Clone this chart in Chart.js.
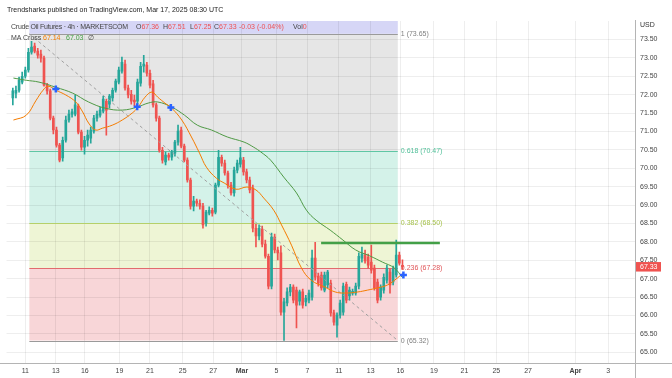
<!DOCTYPE html>
<html><head><meta charset="utf-8">
<script src="https://cdn.jsdelivr.net/npm/chart.js@4.4.1/dist/chart.umd.min.js"></script>
<style>
html,body{margin:0;padding:0;background:#fff;}
#wrap{position:relative;width:672px;height:378px;overflow:hidden;font-family:"Liberation Sans",Arial,sans-serif;}
canvas{position:absolute;left:0;top:0;}
.t{position:absolute;white-space:nowrap;line-height:1;font-size:7px;}
.g{color:#444}.r{color:#ef4f52}.o{color:#f57c00}.gr{color:#43a047}
</style></head><body>
<div id="wrap">
<canvas id="c" width="672" height="378"></canvas>
<div class="t" style="left:7px;top:6px;color:#222;">Trendsharks published on TradingView.com, Mar 17, 2025 08:30 UTC</div>
<div class="t g" style="left:11px;top:22.5px;letter-spacing:-0.25px;">Crude Oil Futures · 4h · MARKETSCOM</div>
<div class="t" style="left:136px;top:22.5px;"><span class="g">O</span><span class="r">67.36</span></div>
<div class="t" style="left:163px;top:22.5px;"><span class="g">H</span><span class="r">67.51</span></div>
<div class="t" style="left:190px;top:22.5px;"><span class="g">L</span><span class="r">67.25</span></div>
<div class="t" style="left:214px;top:22.5px;"><span class="g">C</span><span class="r">67.33</span></div>
<div class="t r" style="left:239px;top:22.5px;">-0.03 (-0.04%)</div>
<div class="t" style="left:293px;top:22.5px;"><span class="g">Vol</span><span class="r">0</span></div>
<div class="t g" style="left:11px;top:33.5px;">MA Cross</div>
<div class="t o" style="left:43px;top:33.5px;">67.14</div>
<div class="t gr" style="left:66px;top:33.5px;">67.03</div>
<div class="t g" style="left:88px;top:33.5px;">∅</div>
</div>
<script>
// ---- data ----
const barStart = -4;
const opens = [71.91,72.04,72.12,72.34,
 72.50,72.67,73.15,73.32,73.18,73.10,72.99,72.26,72.10,71.36,
 71.04,70.63,70.28,70.76,71.31,71.47,71.47,71.69,70.98,70.57,
 70.76,70.82,71.01,71.36,71.44,71.55,71.82,71.74,71.91,72.12,
 72.34,72.64,72.83,72.18,72.01,71.85,71.82,72.31,72.77,72.80,
 72.58,72.29,71.72,71.36,70.49,70.17,70.36,70.30,70.41,70.71,
 71.04,70.60,70.22,69.68,68.97,69.11,69.05,68.97,68.51,68.78,
 68.86,68.81,69.54,70.30,70.14,69.87,69.54,69.33,69.95,70.11,
 70.22,69.90,69.68,69.46,68.37,68.16,68.35,67.94,67.61,66.80,
 68.13,67.78,67.70,66.09,66.34,66.64,66.77,66.69,66.39,66.64,
 66.37,66.42,66.50,67.56,67.07,67.10,66.69,66.83,66.88,66.07,
 65.74,66.01,66.09,66.85,66.53,66.61,66.61,66.80,67.56,67.64,
 67.59,67.45,67.29,66.91,66.50,66.69,66.96,67.18,66.91,67.10,
 67.64,67.36];
const highs = [72.18,72.23,72.48,72.61,
 72.75,73.26,73.45,73.40,73.26,73.21,73.05,72.31,72.15,71.42,
 71.12,70.68,70.85,71.42,71.58,71.61,71.99,71.74,71.04,70.87,
 71.04,71.12,71.44,71.55,71.66,71.96,71.88,72.01,72.18,72.42,
 72.75,73.02,72.94,72.26,72.12,71.99,72.42,72.88,73.07,72.88,
 72.67,72.39,71.77,71.42,70.57,70.44,70.41,70.49,70.76,71.17,
 71.12,70.66,70.28,69.73,69.24,69.16,69.14,69.05,68.86,68.95,
 68.92,69.60,70.49,70.36,70.22,69.92,69.62,70.03,70.22,70.57,
 70.30,69.98,69.76,69.54,68.48,68.46,68.43,68.05,67.67,68.24,
 68.21,67.86,67.89,66.47,66.75,66.85,66.83,66.77,66.69,66.72,
 66.55,66.69,67.78,67.99,67.15,67.18,67.18,67.23,66.96,66.15,
 66.07,66.42,66.88,66.91,66.77,66.72,66.88,67.70,67.86,67.78,
 67.67,67.91,67.37,66.99,66.83,67.13,67.37,67.26,67.34,68.05,
 67.72,67.51];
const lows = [71.72,71.91,72.07,72.29,
 72.45,72.61,73.10,73.13,72.99,72.88,72.23,72.01,71.31,70.93,
 70.57,70.17,70.19,70.71,71.25,71.39,71.42,70.93,70.49,70.38,
 70.60,70.68,70.95,71.28,71.39,71.50,70.90,71.63,71.82,72.07,
 72.29,72.58,72.12,71.91,71.74,71.69,71.74,72.23,72.61,72.50,
 72.18,71.66,71.28,70.44,70.14,70.09,70.22,70.22,70.33,70.63,
 70.55,70.17,69.62,68.89,68.84,68.97,68.89,68.37,68.43,68.73,
 68.70,68.76,69.49,70.06,69.81,69.46,69.27,69.24,69.87,70.03,
 69.81,69.60,69.33,68.27,67.86,68.05,67.86,67.56,66.72,66.72,
 67.70,67.51,66.01,65.32,66.26,66.53,66.34,65.66,66.28,66.20,
 66.26,66.34,66.42,66.96,66.80,66.69,66.64,66.75,65.98,65.74,
 65.41,65.93,66.01,66.34,66.42,66.55,66.55,66.72,67.45,67.42,
 67.29,67.15,66.69,66.34,66.42,66.61,66.88,66.61,66.83,67.04,
 67.37,67.25];
const closes = [72.10,72.12,72.39,72.50,
 72.67,73.15,73.29,73.18,73.07,72.99,72.26,72.10,71.36,71.04,
 70.63,70.22,70.76,71.31,71.47,71.53,71.72,70.98,70.57,70.76,
 70.90,71.04,71.36,71.47,71.58,71.88,71.58,71.96,72.12,72.37,
 72.67,72.88,72.18,71.99,71.82,71.80,72.34,72.77,72.83,72.58,
 72.26,71.72,71.36,70.49,70.22,70.36,70.30,70.44,70.71,71.01,
 70.60,70.22,69.68,68.97,69.11,69.05,68.97,68.46,68.81,68.86,
 68.78,69.54,70.30,70.14,69.87,69.54,69.33,69.95,70.14,70.28,
 69.90,69.68,69.41,68.37,68.16,68.37,67.94,67.61,66.80,68.13,
 67.78,67.70,66.09,66.37,66.64,66.77,66.42,66.28,66.64,66.28,
 66.47,66.61,67.56,67.04,66.88,66.75,67.10,67.18,66.07,65.82,
 66.01,66.34,66.80,66.42,66.69,66.66,66.80,67.61,67.67,67.48,
 67.37,67.23,66.75,66.42,66.77,67.04,67.29,66.83,67.26,67.64,
 67.42,67.33];

const fastMaX = [-3.8,0.3,3.5,5.7,7.3,9.8,13.0,16.2,18.4,20.3,22.5,24.8,27.9,31.1,34.3,36.2,38.4,40.6,42.5,44.8,47.0,50.2,53.3,55.9,58.1,61.3,63.8,67.6,71.1,74.0,76.5,79.7,82.2,85.4,88.6,91.7,96.2,99.4,102.5,106.7,109.8,113.0,116.2,119.4,121.0];
const fastMaY = [71.31,71.44,71.85,72.12,72.23,72.12,71.99,71.80,71.53,71.23,71.04,71.09,71.17,71.31,71.50,71.66,71.93,72.07,71.93,71.77,71.63,71.31,70.85,70.41,70.03,69.73,69.60,69.43,69.49,69.41,69.19,68.86,68.46,67.91,67.29,66.96,66.77,66.64,66.61,66.64,66.69,66.75,66.83,67.02,67.14];
const slowMaX = [-3.8,0.3,4.4,9.8,15.2,20.3,25.7,31.1,35.9,39.4,42.5,47.0,51.1,55.2,59.7,64.8,70.2,73.3,75.6,78.7,82.9,87.0,90.2,93.3,97.8,101.9,106.0,110.5,114.6,118.4,121.0];
const slowMaY = [72.45,72.39,72.34,72.20,72.04,71.80,71.63,71.58,71.66,71.77,71.80,71.66,71.44,71.17,71.04,70.85,70.71,70.57,70.44,70.22,69.76,69.33,68.86,68.59,68.32,68.05,67.78,67.62,67.45,67.29,67.03];
const crossX = [9.8,35.9,46.7,121.3];
const crossY = [72.15,71.67,71.65,67.10];

const fibRatios = ['1','0.618','0.382','0.236','0'];
const fibPrices = [73.65,70.47,68.50,67.28,65.32];
const fibStartX = 1.3, fibEndX = 119.5;
const levelLineX = [94.9,133.0];
const levelLinePrice = 67.97;
const lastPrice = 67.33;

const xTickPos = [0,9.8,19.1,30.2,40.0,50.5,60.3,69.5,80.6,90.5,100.6,110.8,120.3,131.1,140.9,151.1,161.3,176.5,187.0];
const xTickLabels = ['11','13','16','19','21','25','27','Mar','5','7','11','13','16','19','21','25','27','Apr','3'];
const yTickVals = [65.0,65.5,66.0,66.5,67.0,67.5,68.0,68.5,69.0,69.5,70.0,70.5,71.0,71.5,72.0,72.5,73.0,73.5];

// ---- styles ----
const UP = '#26a69a', DOWN = '#ef5350';
const fibFill = ['#d6d6f6','#e6e6e6','#d4f2e9','#eef5d5','#f8d6d8'];
const fibLine = ['#9a9a9a','#5fc6a4','#b5d06a','#e26b6e','#9a9a9a'];
const fibText = ['#7f7f7f','#4fbf98','#a6c24d','#e05558','#7f7f7f'];
const FONT = '"Liberation Sans", Arial, sans-serif';

const colors = opens.map((o,i)=> closes[i] >= o ? UP : DOWN);
const bodies = opens.map((o,i)=>({x: barStart+i, y:[o, closes[i]]}));
const wicks = opens.map((o,i)=>({x: barStart+i, y:[lows[i], highs[i]]}));

const fibPlugin = {
  id:'fib',
  beforeDraw(chart){
    const {ctx, chartArea:a, scales:{x,y}} = chart;
    ctx.save();
    ctx.fillStyle = '#fff'; ctx.fillRect(0,0,chart.width,chart.height);
    ctx.beginPath(); ctx.rect(a.left,a.top,a.right-a.left,a.bottom-a.top); ctx.clip();
    const x0 = x.getPixelForValue(fibStartX), x1 = x.getPixelForValue(fibEndX);
    ctx.fillStyle = fibFill[0];
    ctx.fillRect(x0, a.top, x1-x0, y.getPixelForValue(fibPrices[0]) - a.top);
    for (let i=0;i<fibPrices.length-1;i++){
      const ya = y.getPixelForValue(fibPrices[i]), yb = y.getPixelForValue(fibPrices[i+1]);
      ctx.fillStyle = fibFill[i+1];
      ctx.fillRect(x0, ya, x1-x0, yb-ya);
    }
    ctx.restore();
  },
  beforeDatasetsDraw(chart){
    const {ctx, scales:{x,y}} = chart;
    const x0 = x.getPixelForValue(fibStartX), x1 = x.getPixelForValue(fibEndX);
    ctx.save();
    ctx.font = '7px ' + FONT;
    ctx.textBaseline = 'middle'; ctx.textAlign = 'left';
    fibPrices.forEach((p,i)=>{
      const py = Math.round(y.getPixelForValue(p)) + 0.5;
      ctx.strokeStyle = fibLine[i]; ctx.lineWidth = 1;
      ctx.beginPath(); ctx.moveTo(x0,py); ctx.lineTo(x1,py); ctx.stroke();
      ctx.fillStyle = fibText[i];
      ctx.fillText(fibRatios[i] + ' (' + p.toFixed(2) + ')', x1 + 3, py);
    });
    ctx.restore();
  },
  afterDraw(chart){
    const {ctx, chartArea:a, scales:{y}} = chart;
    ctx.save();
    ctx.strokeStyle = '#b4b4b4'; ctx.lineWidth = 1;
    ctx.beginPath(); ctx.moveTo(a.right+0.5, 20); ctx.lineTo(a.right+0.5, chart.height); ctx.stroke();
    ctx.beginPath(); ctx.moveTo(0, a.bottom+0.5); ctx.lineTo(chart.width, a.bottom+0.5); ctx.stroke();
    ctx.font = '7px ' + FONT; ctx.textBaseline='middle'; ctx.textAlign='left';
    ctx.fillStyle = '#333'; ctx.fillText('USD', a.right+5, 25.5);
    const py = y.getPixelForValue(lastPrice);
    ctx.fillStyle = '#ef5350'; ctx.fillRect(a.right+1, py-4.5, 25, 9.5);
    ctx.fillStyle = '#fff'; ctx.fillText(lastPrice.toFixed(2), a.right+5, py+0.5);
    ctx.restore();
  }
};

new Chart(document.getElementById('c'), {
  type:'bar',
  data:{
    datasets:[
      {type:'line', data: crossX.map((v,i)=>({x:v,y:crossY[i]})), showLine:false, pointStyle:'cross', pointRadius:3.5, pointBorderWidth:2.5, borderColor:'#2962ff', backgroundColor:'#2962ff', order:0},
      {type:'line', data: levelLineX.map(v=>({x:v,y:levelLinePrice})), borderColor:'#43a047', borderWidth:2.5, pointRadius:0, order:1},
      {type:'line', data: fastMaX.map((v,i)=>({x:v,y:fastMaY[i]})), borderColor:'#f57c00', borderWidth:1, pointRadius:0, tension:0.4, order:2},
      {type:'line', data: slowMaX.map((v,i)=>({x:v,y:slowMaY[i]})), borderColor:'#4f9a45', borderWidth:1, pointRadius:0, tension:0.4, order:2},
      {type:'line', data:[{x:fibStartX,y:fibPrices[0]},{x:fibEndX,y:fibPrices[4]}], borderColor:'#a0a0a0', borderDash:[3,3], borderWidth:1, pointRadius:0, order:3},
      {type:'bar', data: bodies, backgroundColor: colors, barThickness:2, grouped:false, minBarLength:1, order:4},
      {type:'bar', data: wicks, backgroundColor: colors, barThickness:1, grouped:false, order:5}
    ]
  },
  options:{
    responsive:false, animation:false, devicePixelRatio:1,
    layout:{padding:{top:21,left:0,right:0,bottom:0}},
    plugins:{legend:{display:false}, tooltip:{enabled:false}},
    scales:{
      x:{type:'linear', min:-6.03, max:195.6, offset:false,
        afterBuildTicks: s => { s.ticks = xTickPos.map(v=>({value:v})); },
        afterFit: s => { s.height = 15; },
        ticks:{autoSkip:false, maxRotation:0, padding:4, color:'#444',
          font: c => ({family:FONT, size:7, weight: (xTickLabels[c.index]==='Mar'||xTickLabels[c.index]==='Apr') ? 'bold':'normal'}),
          callback:(v,i)=> xTickLabels[i]},
        grid:{color:'rgba(0,0,0,0.065)', drawTicks:false, offset:false},
        border:{display:false}
      },
      y:{position:'right', min:64.71, max:74.0,
        afterBuildTicks: s => { s.ticks = yTickVals.map(v=>({value:v})); },
        afterFit: s => { s.width = 37; },
        ticks:{padding:5, color:'#444', font:{family:FONT,size:7}, callback: v => Number(v).toFixed(2)},
        grid:{color:'rgba(0,0,0,0.065)', drawTicks:false},
        border:{display:false}
      }
    }
  },
  plugins:[fibPlugin]
});
</script>
</body></html>
